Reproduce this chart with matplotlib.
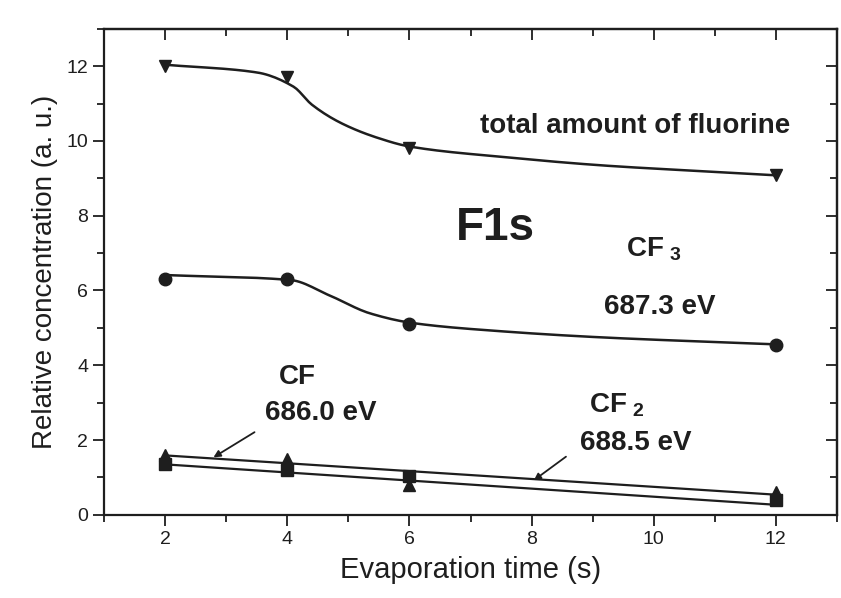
import numpy as np
import matplotlib
matplotlib.use("Agg")
import matplotlib.pyplot as plt
from matplotlib.ticker import MultipleLocator

plt.rcParams['font.family'] = ['Liberation Sans', 'DejaVu Sans']
plt.rcParams['mathtext.fontset'] = 'custom'
plt.rcParams['mathtext.bf'] = 'Liberation Sans:bold'

# measured points (evaporation time in s)
time_s = [2, 4, 6, 12]
total_f = [12.0, 11.7, 9.8, 9.1]
cf3 = [6.3, 6.3, 5.1, 4.55]
cf = [1.6, 1.5, 0.8, 0.6]
cf2 = [1.35, 1.2, 1.05, 0.4]

# guide-to-the-eye curves
total_fit_x = [2.05, 3.5, 4.1, 4.4, 4.9, 5.5, 6.0, 7.6, 9.2, 10.9, 12.0]
total_fit_y = [12.03, 11.83, 11.45, 10.97, 10.46, 10.07, 9.85, 9.56, 9.34, 9.18, 9.08]
cf3_fit_x = [2.05, 4.05, 4.7, 5.35, 6.05, 7.5, 9.1, 10.7, 12.0]
cf3_fit_y = [6.41, 6.28, 5.86, 5.39, 5.13, 4.91, 4.75, 4.64, 4.56]
cf_fit_x = [2.0, 12.0]
cf_fit_y = [1.59, 0.54]
cf2_fit_x = [2.0, 12.0]
cf2_fit_y = [1.35, 0.27]


def pchip(x, y, n=200):
    # monotone cubic through the knots so the guide lines stay smooth
    x = np.asarray(x, float)
    y = np.asarray(y, float)
    h = np.diff(x)
    d = np.diff(y) / h
    m = np.zeros_like(y)
    m[0], m[-1] = d[0], d[-1]
    for i in range(1, len(x) - 1):
        if d[i - 1] * d[i] > 0:
            w1 = 2 * h[i] + h[i - 1]
            w2 = h[i] + 2 * h[i - 1]
            m[i] = (w1 + w2) / (w1 / d[i - 1] + w2 / d[i])
    xs = np.linspace(x[0], x[-1], n)
    k = np.clip(np.searchsorted(x, xs) - 1, 0, len(h) - 1)
    t = (xs - x[k]) / h[k]
    h00 = 2 * t**3 - 3 * t**2 + 1
    h10 = t**3 - 2 * t**2 + t
    h01 = -2 * t**3 + 3 * t**2
    h11 = t**3 - t**2
    ys = h00 * y[k] + h10 * h[k] * m[k] + h01 * y[k + 1] + h11 * h[k] * m[k + 1]
    return xs, ys


fig = plt.figure(figsize=(8.41, 5.98), dpi=100)
ax = fig.add_axes([0.124, 0.139, 0.871, 0.813])

ink = '#1e1e1e'
ax.plot(*pchip(total_fit_x, total_fit_y), color=ink, lw=1.8)
ax.plot(*pchip(cf3_fit_x, cf3_fit_y), color=ink, lw=1.8)
ax.plot(cf_fit_x, cf_fit_y, color=ink, lw=1.6)
ax.plot(cf2_fit_x, cf2_fit_y, color=ink, lw=1.6)

ax.plot(time_s, total_f, 'v', color=ink, ms=9, ls='none')
ax.plot(time_s, cf3, 'o', color=ink, ms=9, ls='none')
ax.plot(time_s, cf, '^', color=ink, ms=9, ls='none')
ax.plot(time_s, cf2, 's', color=ink, ms=8, ls='none')

ax.set_xlim(1, 13)
ax.set_ylim(0, 13)
ax.xaxis.set_minor_locator(MultipleLocator(1))
ax.yaxis.set_minor_locator(MultipleLocator(1))
ax.set_xticks([2, 4, 6, 8, 10, 12])
ax.set_yticks([0, 2, 4, 6, 8, 10, 12])

ax.tick_params(which='both', direction='out', top=False, right=False,
               labelsize=14, width=1.3, color=ink, labelcolor=ink)
ax.tick_params(which='major', length=8)
ax.tick_params(which='minor', length=5)
# inner ticks on the top and right frame
ax2 = ax.secondary_xaxis('top')
ax2.xaxis.set_major_locator(MultipleLocator(2))
ax2.xaxis.set_minor_locator(MultipleLocator(1))
ax2.tick_params(which='both', direction='in', labeltop=False, width=1.3, color=ink)
ax2.tick_params(which='major', length=8)
ax2.tick_params(which='minor', length=5)
ay2 = ax.secondary_yaxis('right')
ay2.yaxis.set_major_locator(MultipleLocator(2))
ay2.yaxis.set_minor_locator(MultipleLocator(1))
ay2.tick_params(which='both', direction='in', labelright=False, width=1.3, color=ink)
ay2.tick_params(which='major', length=8)
ay2.tick_params(which='minor', length=5)
for sp in list(ax.spines.values()) + [ax2.spines['top'], ay2.spines['right']]:
    sp.set_linewidth(1.6)
    sp.set_color(ink)

ax.set_xlabel('Evaporation time (s)', fontsize=21, color=ink, labelpad=6)
ax.set_ylabel('Relative concentration (a. u.)', fontsize=20, color=ink, labelpad=6)

bold = dict(fontweight='bold', color=ink, ha='center', va='center')
ax.text(9.7, 10.4, 'total amount of fluorine', fontsize=20, **bold)
ax.text(7.4, 7.67, 'F1s', fontsize=33, **bold)
ax.text(10.0, 7.1, r'CF$_{\mathbf{\ 3}}$', fontsize=20, **bold)
ax.text(10.1, 5.56, '687.3 eV', fontsize=20, **bold)
ax.text(4.16, 3.68, 'CF', fontsize=20, **bold)
ax.text(4.55, 2.72, '686.0 eV', fontsize=20, **bold)
ax.text(9.4, 2.93, r'CF$_{\mathbf{\ 2}}$', fontsize=20, **bold)
ax.text(9.7, 1.93, '688.5 eV', fontsize=20, **bold)

arrow = dict(arrowstyle='-|>', color=ink, lw=1.3, mutation_scale=10)
ax.annotate('', xy=(2.75, 1.5), xytext=(3.5, 2.25), arrowprops=arrow)
ax.annotate('', xy=(8.0, 0.88), xytext=(8.6, 1.6), arrowprops=arrow)

plt.savefig('out.png', dpi=100)
